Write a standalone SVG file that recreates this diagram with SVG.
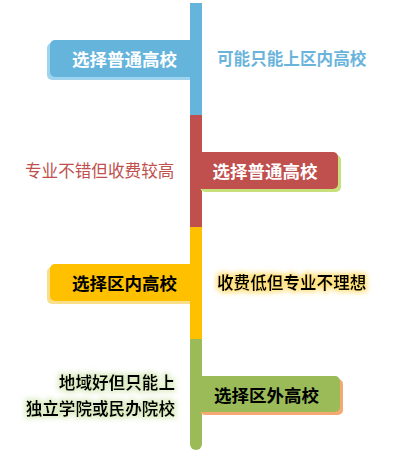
<svg xmlns="http://www.w3.org/2000/svg" width="400" height="464" viewBox="0 0 400 464">
<defs>
<style>
text{font-family:"Noto Sans CJK SC","Liberation Sans",sans-serif;dominant-baseline:central}
.bt{font-size:17.5px;font-weight:bold;text-anchor:middle}
.st{font-size:16.6px}
</style>
<filter id="glowY" x="-20%" y="-50%" width="140%" height="200%">
<feMorphology in="SourceAlpha" operator="dilate" radius="1.5" result="d"/>
<feGaussianBlur in="d" stdDeviation="2.5" result="b"/>
<feFlood flood-color="#ffd54f" flood-opacity="0.7"/>
<feComposite in2="b" operator="in" result="g"/>
<feMerge><feMergeNode in="g"/><feMergeNode in="SourceGraphic"/></feMerge>
</filter>
<filter id="glowG" x="-20%" y="-50%" width="140%" height="200%">
<feMorphology in="SourceAlpha" operator="dilate" radius="1.5" result="d"/>
<feGaussianBlur in="d" stdDeviation="2.5" result="b"/>
<feFlood flood-color="#c8e0a0" flood-opacity="0.6"/>
<feComposite in2="b" operator="in" result="g"/>
<feMerge><feMergeNode in="g"/><feMergeNode in="SourceGraphic"/></feMerge>
</filter>
</defs>
<g id="connectors">
<rect x="190" y="3" width="12" height="112" fill="#65b4dc"/>
<rect x="190" y="115" width="12" height="112" fill="#c0504d"/>
<rect x="190" y="227" width="12" height="112" fill="#ffc000"/>
<path d="M190 339 H202 V444 A6 6 0 0 1 190 444 Z" fill="#9bbb59"/>
</g>
<g id="node1">
<rect x="47" y="43" width="148" height="37" rx="5" fill="#9fd4ef"/>
<rect x="50" y="40" width="146" height="37" rx="5" fill="#65b4dc"/>
<rect x="190" y="40" width="12" height="40" fill="#65b4dc"/>
<text class="bt" x="124.5" y="58" fill="#ffffff">选择普通高校</text>
</g>
<g id="note1"><text class="st" x="217" y="58" fill="#6ab4dc" font-weight="bold">可能只能上区内高校</text></g>
<g id="node2">
<rect x="200" y="155" width="141" height="37" rx="5" fill="#c8e07c"/>
<rect x="196" y="152" width="142" height="37" rx="5" fill="#c0504d"/>
<text class="bt" x="265" y="170" fill="#ffffff">选择普通高校</text>
</g>
<g id="note2"><text class="st" x="25" y="170" fill="#c0504d">专业不错但收费较高</text></g>
<g id="node3">
<rect x="47" y="267" width="148" height="37" rx="5" fill="#f9df8a"/>
<rect x="50" y="264" width="146" height="37" rx="5" fill="#ffc000"/>
<rect x="190" y="264" width="12" height="40" fill="#ffc000"/>
<text class="bt" x="124.5" y="282.5" fill="#000000">选择区内高校</text>
</g>
<g id="note3"><text class="st" x="217" y="282" fill="#000000" font-weight="bold" filter="url(#glowY)">收费低但专业不理想</text></g>
<g id="node4">
<rect x="200" y="379" width="143" height="36" rx="5" fill="#f4a972"/>
<rect x="196" y="376" width="144" height="36" rx="5" fill="#9bbb59"/>
<text class="bt" x="266.5" y="394.5" fill="#000000">选择区外高校</text>
</g>
<g id="note4" filter="url(#glowG)">
<text class="st" x="175" y="382" fill="#000000" font-weight="bold" text-anchor="end">地域好但只能上</text>
<text class="st" x="175" y="408" fill="#000000" font-weight="bold" text-anchor="end">独立学院或民办院校</text>
</g>
</svg>
